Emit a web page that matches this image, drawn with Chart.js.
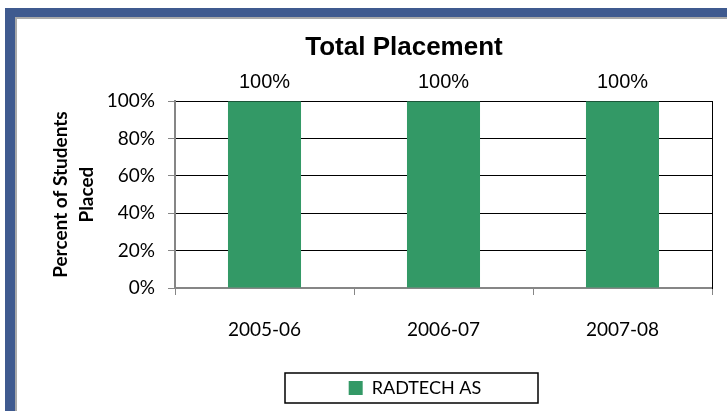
<!DOCTYPE html>
<html>
<head>
<meta charset="utf-8">
<title>Total Placement</title>
<script src="https://cdn.jsdelivr.net/npm/chart.js@4/dist/chart.umd.min.js"></script>
<style>
  html, body { margin: 0; padding: 0; background: #fff; overflow: hidden; }
  body { width: 727px; height: 411px; position: relative; }
  .frame {
    position: absolute; left: 5px; top: 8px; width: 800px; height: 500px;
    border-left: 10px solid #3f5a8f; border-top: 9px solid #3f5a8f;
  }
  .frame::after {
    content: ''; position: absolute; left: 0; top: 0; right: 0; bottom: 0;
    border-left: 2px solid #a9a9a9; border-top: 2px solid #a9a9a9;
  }
  #placementChart { position: absolute; left: 0; top: 0; }
</style>
</head>
<body>
<div class="frame"></div>
<canvas id="placementChart" width="808" height="411"></canvas>
<script>
// Chart data
const categories = ['2005-06', '2006-07', '2007-08'];
const seriesName = 'RADTECH AS';
const placedPercent = [100, 100, 100];
const yTicks = [0, 20, 40, 60, 80, 100];

const BAR_GREEN = '#339966';
const AXIS_GRAY = '#868686';

/**
 * Value labels above the bars and the box round the legend (Excel style)
 */
const excelExtras = {
  id: 'excelExtras',
  afterLayout(chart) {
    // legend entry sits a little right of the title in the original
    if (chart.legend) {
      chart.legend.left += 11;
      chart.legend.right += 11;
    }
  },
  afterDatasetsDraw(chart) {
    const ctx = chart.ctx;
    const meta = chart.getDatasetMeta(0);
    ctx.save();
    ctx.font = '20px "Liberation Sans", Arial, sans-serif';
    ctx.fillStyle = '#000';
    ctx.textAlign = 'center';
    ctx.textBaseline = 'middle';
    meta.data.forEach((bar, i) => {
      ctx.fillText(placedPercent[i] + '%', bar.x, bar.y - 19);
    });
    ctx.restore();
  },
  afterDraw(chart) {
    const ctx = chart.ctx;
    const legend = chart.legend;
    if (!legend || !legend.legendHitBoxes.length) return;
    // legend frame
    const hb = legend.legendHitBoxes[0];
    const cx = hb.left + hb.width / 2 - 4;
    const cy = hb.top + hb.height / 2;
    ctx.save();
    ctx.strokeStyle = '#000';
    ctx.lineWidth = 1.5;
    ctx.strokeRect(Math.round(cx - 126), Math.round(cy - 15), 253, 30);
    ctx.restore();
  }
};

class TotalPlacementChart {
  constructor(canvasId) {
    this.canvas = document.getElementById(canvasId);
    this.chartInstance = null;
  }

  /**
   * Build the chart
   */
  initialize() {
    if (!this.canvas) return;
    this.chartInstance = new Chart(this.canvas.getContext('2d'), this.getChartConfig());
  }

  getChartConfig() {
    const tickFont = { family: 'Lato, "Open Sans", sans-serif', size: 19 };
    return {
      type: 'bar',
      data: {
        labels: categories,
        datasets: [{
          label: seriesName,
          data: placedPercent,
          backgroundColor: BAR_GREEN,
          borderWidth: 0,
          categoryPercentage: 1,
          barPercentage: 0.408
        }]
      },
      plugins: [excelExtras],
      options: {
        responsive: false,
        animation: false,
        devicePixelRatio: 1,
        layout: { padding: { left: 0, right: 0, top: 0, bottom: 4 } },
        plugins: {
          title: {
            display: true,
            text: 'Total Placement',
            color: '#000',
            font: { family: '"Liberation Sans", Arial, sans-serif', size: 26, weight: 'bold' },
            padding: { top: 32, bottom: 38 }
          },
          legend: {
            display: true,
            position: 'bottom',
            labels: {
              color: '#000',
              font: { family: 'Lato, "Open Sans", sans-serif', size: 18 },
              boxWidth: 14,
              boxHeight: 14,
              padding: 20
            }
          },
          tooltip: { enabled: false }
        },
        scales: {
          x: {
            offset: true,
            grid: {
              offset: true,
              drawOnChartArea: false,
              drawTicks: true,
              tickLength: 7,
              tickColor: AXIS_GRAY
            },
            border: { color: AXIS_GRAY, width: 2 },
            ticks: { color: '#000', font: tickFont, padding: 23 },
            afterFit: (scale) => { scale.height = 71; }
          },
          y: {
            min: 0,
            max: 100,
            afterBuildTicks: (scale) => {
              scale.ticks = yTicks.map(v => ({ value: v }));
            },
            grid: {
              color: (c) => (c.tick && c.tick.value === 0 ? 'rgba(0,0,0,0)' : '#000'),
              lineWidth: 1,
              drawTicks: true,
              tickLength: 7,
              tickColor: AXIS_GRAY
            },
            border: { color: AXIS_GRAY, width: 2 },
            ticks: {
              color: '#000',
              font: tickFont,
              padding: 13,
              callback: (v) => v + '%'
            },
            title: {
              display: true,
              text: ['Percent of Students', 'Placed'],
              color: '#000',
              font: { family: 'Lato, "Open Sans", sans-serif', size: 19, weight: 'bold', lineHeight: 1.35 },
              padding: { top: 48, bottom: 0 }
            },
            afterFit: (scale) => { scale.width = 175; }
          },
          // right edge of the plot area, leaves the margin to the right of it
          yRight: {
            position: 'right',
            min: 0,
            max: 100,
            grid: { drawOnChartArea: false, drawTicks: false },
            border: { color: '#000', width: 1 },
            ticks: { display: false },
            afterFit: (scale) => { scale.width = 96; }
          }
        }
      }
    };
  }
}

const placementChart = new TotalPlacementChart('placementChart');
placementChart.initialize();
</script>
</body>
</html>
